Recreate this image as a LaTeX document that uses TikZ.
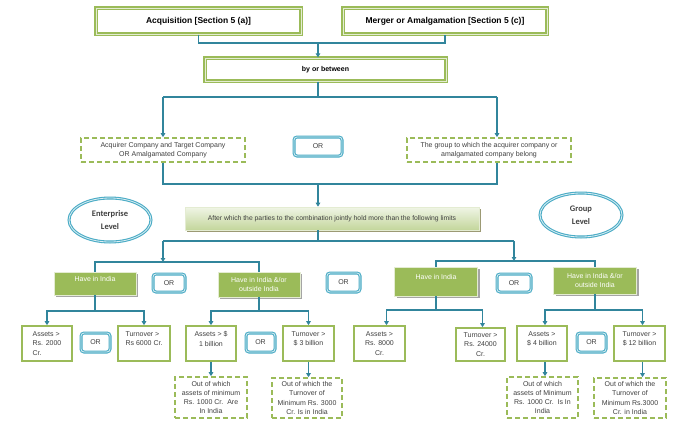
\documentclass[tikz,border=0pt]{standalone}
\usepackage{fontspec}
\setmainfont{Liberation Sans}
\newfontfamily\calfont{Carlito}
\usetikzlibrary{arrows.meta,shadows,shapes.geometric,calc}
\definecolor{grn}{HTML}{9BBB59}
\definecolor{grnlt}{HTML}{E4ECD2}
\definecolor{arrc}{HTML}{31859C}
\definecolor{orb}{HTML}{4BACC6}
\definecolor{orlt}{HTML}{DAEEF3}
\definecolor{txt}{HTML}{404040}
\definecolor{shd}{HTML}{A5A5A5}
\definecolor{awtop}{HTML}{F0F5E6}
\definecolor{awbot}{HTML}{C3D69B}
\definecolor{awshd}{HTML}{9C9A74}
\tikzset{
  topbox/.style={draw=grn, double=grnlt, double distance=0.9pt, line width=1.2pt, fill=white, inner sep=0pt, text=black},
  dbox/.style={draw=grn, line width=1.6pt, dash pattern=on 5pt off 3pt, fill=white, inner sep=0pt, align=center, text=txt, font=\fontsize{7}{9.3}\selectfont},
  orbox/.style={draw=orb, double=orlt, double distance=0.8pt, line width=1.1pt, rounded corners=3pt, fill=white, inner sep=0pt, text=txt, font=\fontsize{7}{8}\selectfont},
  ellbox/.style={ellipse, draw=orb, double=orlt, double distance=0.8pt, line width=1.1pt, fill=white, inner sep=0pt, align=center, text=txt, font=\calfont\bfseries\fontsize{8.5}{12.5}\selectfont},
  gbox/.style={fill=grn, draw=grnlt, line width=0.6pt, inner sep=0pt, align=center, text=white, font=\fontsize{7}{8.5}\selectfont, drop shadow={shadow xshift=2pt, shadow yshift=-2pt, fill=shd, opacity=1}},
  awbox/.style={top color=awtop, bottom color=awbot, draw=grnlt, line width=0.6pt, inner sep=0pt, text=txt, font=\fontsize{6.8}{8}\selectfont, drop shadow={shadow xshift=2pt, shadow yshift=-2pt, fill=awshd, opacity=1}},
  vbox/.style={draw=grn, line width=1.6pt, fill=white, inner sep=0pt, align=center, text=txt, font=\fontsize{7}{9.5}\selectfont},
  ln/.style={draw=arrc, line width=1.5pt},
  arr/.style={draw=arrc, line width=1.5pt, -{Triangle[length=4pt,width=4.5pt]}}
}
\begin{document}
\begin{tikzpicture}[x=1pt,y=-1pt]
\fill[white] (0,0) rectangle (675,421);
\useasboundingbox (0,0) rectangle (675,421);

% top
\node[topbox, minimum width=205pt, minimum height=26pt, font=\bfseries\fontsize{8.5}{10}\selectfont] (acq) at (198.5,21) {Acquisition [Section 5 (a)]};
\node[topbox, minimum width=204pt, minimum height=26pt, font=\bfseries\fontsize{8.5}{10}\selectfont] (mer) at (445,21) {Merger or Amalgamation [Section 5 (c)]};
\node[topbox, minimum width=241pt, minimum height=23pt, font=\bfseries\fontsize{7}{8}\selectfont] (bob) at (325.5,69.5) {by or between};

\node[dbox, minimum width=164pt, minimum height=24pt] (dl) at (163,150) {Acquirer Company and Target Company\\OR Amalgamated Company};
\node[orbox, minimum width=48pt, minimum height=19pt] (or1) at (318,146.5) {OR};
\node[dbox, minimum width=164pt, minimum height=24pt] (dr) at (489,150) {The group to which the acquirer company or\\amalgamated company belong};

\node[awbox, minimum width=294pt, minimum height=23pt] (aw) at (332,218.5) {After which the parties to the combination jointly hold more than the following limits};

\node[ellbox, minimum width=82pt, minimum height=44pt] (ent) at (110,220) {Enterprise\\Level};
\node[ellbox, minimum width=82pt, minimum height=44pt] (grp) at (581,215) {Group\\Level};

% level 2
\node[gbox, minimum width=82pt, minimum height=23pt] (h1) at (95,283.5) {Have in India\\\mbox{}};
\node[orbox, minimum width=32pt, minimum height=18pt] (or2) at (169,283) {OR};
\node[gbox, minimum width=82pt, minimum height=25pt] (h2) at (259,284.5) {Have in India \&/or\\outside India};
\node[orbox, minimum width=33pt, minimum height=19pt] (or3) at (343.5,282.5) {OR};
\node[gbox, minimum width=83pt, minimum height=29pt] (h3) at (436,281.5) {Have in India\\\mbox{}};
\node[orbox, minimum width=34pt, minimum height=18pt] (or4) at (514,283) {OR};
\node[gbox, minimum width=83pt, minimum height=27pt] (h4) at (595,280.5) {Have in India \&/or\\outside India};

% level 3
\node[vbox, minimum width=50pt, minimum height=35pt, align=left] (a1) at (47,343.5) {Assets >\\Rs. 2000\\Cr.};
\node[orbox, minimum width=29pt, minimum height=19pt] (or5) at (95.5,342.5) {OR};
\node[vbox, minimum width=52pt, minimum height=35pt, align=left] (t1) at (144,343.5) {Turnover >\\Rs 6000 Cr.\\\mbox{}};
\node[vbox, minimum width=50pt, minimum height=35pt] (a2) at (211,343.5) {Assets > \$\\1 billion\\\mbox{}};
\node[orbox, minimum width=29pt, minimum height=19pt] (or6) at (260.5,342.5) {OR};
\node[vbox, minimum width=51pt, minimum height=35pt] (t2) at (308.5,343.5) {Turnover >\\\$ 3 billion\\\mbox{}};
\node[dbox, minimum width=72pt, minimum height=41pt] (d1) at (211,397.5) {Out of which\\assets of minimum\\Rs. 1000 Cr.~~Are\\In India};
\node[dbox, minimum width=70pt, minimum height=40pt] (d2) at (307,398) {Out of which the\\Turnover of\\Minimum Rs. 3000\\Cr. Is in India};

\node[vbox, minimum width=51pt, minimum height=35pt] (a3) at (379.5,343.5) {Assets >\\Rs. 8000\\Cr.};
\node[vbox, minimum width=49pt, minimum height=33pt] (t3) at (480.5,344.5) {Turnover >\\Rs. 24000\\Cr.};
\node[vbox, minimum width=50pt, minimum height=35pt] (a4) at (542,343.5) {Assets >\\\$ 4 billion\\\mbox{}};
\node[orbox, minimum width=29pt, minimum height=19pt] (or7) at (591.5,342.5) {OR};
\node[vbox, minimum width=51pt, minimum height=35pt] (t4) at (639.5,343.5) {Turnover >\\\$ 12 billion\\\mbox{}};
\node[dbox, minimum width=71pt, minimum height=41pt] (d3) at (542.5,397.5) {Out of which\\assets of Minimum\\Rs. 1000 Cr.~~Is In\\India};
\node[dbox, minimum width=72pt, minimum height=40pt] (d4) at (630,398) {Out of which the\\Turnover of\\Minimum Rs.3000\\Cr. in India};

% connectors
\coordinate (j1) at (318,43);
\draw[ln] (acq.south) |- (j1) -| (mer.south);
\draw[arr] (j1) -- (j1 |- bob.north);
\coordinate (j2) at (318,97);
\coordinate (rj) at (497,97);
\draw[ln] (j1 |- bob.south) -- (j2);
\draw[ln] (dl.north |- j2) -- (rj);
\draw[arr] (dl.north |- j2) -- (dl.north);
\draw[arr] (rj) -- (rj |- dr.north);
\coordinate (j3) at (318,184);
\draw[ln] (dl.south) |- (rj |- j3) -- (rj |- dr.south);
\draw[arr] (j3) -- (j3 |- aw.north);
\coordinate (j4) at (318,241);
\coordinate (e1) at (163,241);
\coordinate (g1) at (514,241);
\coordinate (e2) at (163,262);
\coordinate (g2) at (514,261);
\draw[ln] (j3 |- aw.south) -- (j4);
\draw[ln] (e1) -- (g1);
\draw[arr] (e1) -- (e2);
\draw[arr] (g1) -- (g2);
\draw[ln] (h1.north) |- (e2) -| (h2.north);
\draw[ln] (h3.north) |- (g2) -| (h4.north);

\coordinate (r1) at (95,311);
\coordinate (r2) at (259,311);
\coordinate (r3) at (436,310);
\coordinate (r4) at (595,310);
\draw[ln] (h1.south) -- (r1);
\draw[arr] (r1) -| (a1.north);
\draw[arr] (r1) -| (t1.north);
\draw[ln] (h2.south) -- (r2);
\draw[arr] (r2) -| (a2.north);
\draw[arr] (r2) -| (t2.north);
\draw[ln] (h3.south) -- (r3);
\draw[arr] (r3) -| ([xshift=7pt]a3.north);
\draw[arr] (r3) -| ([xshift=2pt]t3.north);
\draw[ln] (h4.south) -- (r4);
\draw[arr] (r4) -| ([xshift=3pt]a4.north);
\draw[arr] (r4) -| ([xshift=3pt]t4.north);

\draw[arr] (a2.south) -- (a2.south |- d1.north);
\draw[arr] (t2.south) -- (t2.south |- d2.north);
\draw[arr] ([xshift=3pt]a4.south) -- ([xshift=3pt]a4.south |- d3.north);
\draw[arr] ([xshift=3pt]t4.south) -- ([xshift=3pt]t4.south |- d4.north);
\end{tikzpicture}
\end{document}
